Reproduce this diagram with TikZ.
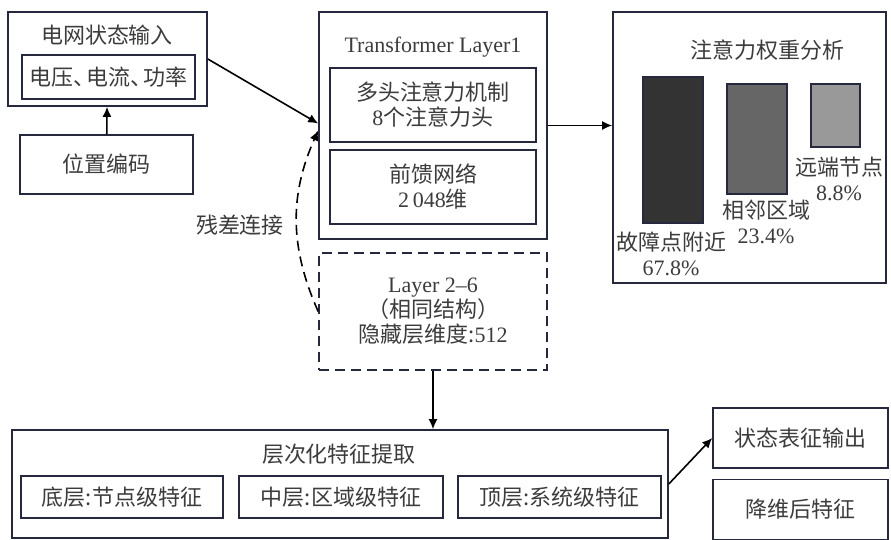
\documentclass[tikz,border=0pt]{standalone}
\usepackage{fontspec}
\setmainfont{Liberation Serif}
\newfontfamily\cjk{Noto Sans CJK SC}
\usetikzlibrary{arrows.meta,positioning,calc}
\newcommand{\zh}[1]{{\cjk #1}}
\definecolor{boxline}{RGB}{38,40,62}
\definecolor{labeltext}{RGB}{60,60,60}

\begin{document}
\begin{tikzpicture}[x=0.5pt, y=-0.5pt,
    font=\fontsize{11}{12.5}\selectfont, text=labeltext,
    box/.style={draw=boxline, line width=0.8pt, inner sep=0pt, align=center},
    bar/.style={draw=boxline, line width=0.8pt, inner sep=0pt},
    arr/.style={-{Latex[length=5pt,width=4.5pt]}, line width=0.8pt, black}]
    \useasboundingbox (0,0) rectangle (891,540);

    % --- input side ---
    \node[box, minimum width=99.5pt, minimum height=47pt] (inbox) at (107.5,59) {};
    \node (intitle) at (107,35) {\zh{电网状态输入}};
    \node[box, minimum width=86.5pt, minimum height=22pt] (invars) at (108.5,77)
      {\zh{电压、\hspace{-0.4em}电流、\hspace{-0.4em}功率}};
    \node[box, minimum width=86.5pt, minimum height=29.5pt] (posenc) at (106.5,164.5) {\zh{位置编码}};

    % --- transformer stack ---
    \node[box, minimum width=114pt, minimum height=113.5pt] (tlayer) at (433,125.5) {};
    \node (ttitle) at (433,47) {Transformer Layer1};
    \node[box, minimum width=103pt, minimum height=37pt] (mha) at (433,105)
      {\zh{多头注意力机制}\\8\zh{个注意力头}};
    \node[box, minimum width=103pt, minimum height=37pt] (ffn) at (433,187)
      {\zh{前馈网络}\\2\,048\zh{维}};
    \node[box, dashed, dash pattern=on 5pt off 3pt, minimum width=114pt, minimum height=58.5pt] (layers) at (433,311.5)
      {Layer 2--6\\\zh{（相同结构）}\\\zh{隐藏层维度:}512};
    \node (reslab) at (240,225) {\zh{残差连接}};

    % --- attention weights ---
    \node[box, minimum width=136.5pt, minimum height=135.5pt] (attn) at (749.5,147.5) {};
    \node (atitle) at (767,50) {\zh{注意力权重分析}};
    \node[bar, fill=black!80, minimum width=30pt, minimum height=73pt] (bar1) at (673,150) {};
    \node[bar, fill=black!60, minimum width=30pt, minimum height=55pt] (bar2) at (757,139) {};
    \node[bar, fill=black!40, minimum width=24.5pt, minimum height=31.5pt] (bar3) at (835.5,115.5) {};
    \node[align=center] (lab1) at (671,254) {\zh{故障点附近}\\67.8\%};
    \node[align=center] (lab2) at (766,222) {\zh{相邻区域}\\23.4\%};
    \node[align=center] (lab3) at (839,179) {\zh{远端节点}\\8.8\%};

    % --- hierarchical features + outputs ---
    \node[box, minimum width=328pt, minimum height=54pt] (feat) at (340,484) {};
    \node (ftitle) at (339,454) {\zh{层次化特征提取}};
    \node[box, minimum width=101pt, minimum height=21pt] (lowf) at (122,497) {\zh{底层:节点级特征}};
    \node[box, minimum width=102pt, minimum height=21pt] (midf) at (341,497) {\zh{中层:区域级特征}};
    \node[box, minimum width=101.5pt, minimum height=21pt] (topf) at (559.5,497) {\zh{顶层:系统级特征}};
    \node[box, minimum width=87.5pt, minimum height=30pt] (outA) at (800.5,438) {\zh{状态表征输出}};
    \node[box, minimum width=87.5pt, minimum height=30pt] (outB) at (800.5,509.5) {\zh{降维后特征}};

    % connectors
    \draw[arr] (posenc) -- (inbox);
    \draw[arr] (inbox.east) -- ([yshift=1pt]tlayer.west);
    \draw[arr, dashed, dash pattern=on 5pt off 3pt] (layers.west) to[bend left=24] ([yshift=-2.5pt]tlayer.west);
    \draw[arr] (tlayer.east) -- (tlayer.east -| attn.west);
    \draw[arr] (layers.south) -- (layers.south |- feat.north);
    \draw[arr] (feat.east) -- (outA.west);
\end{tikzpicture}
\end{document}
